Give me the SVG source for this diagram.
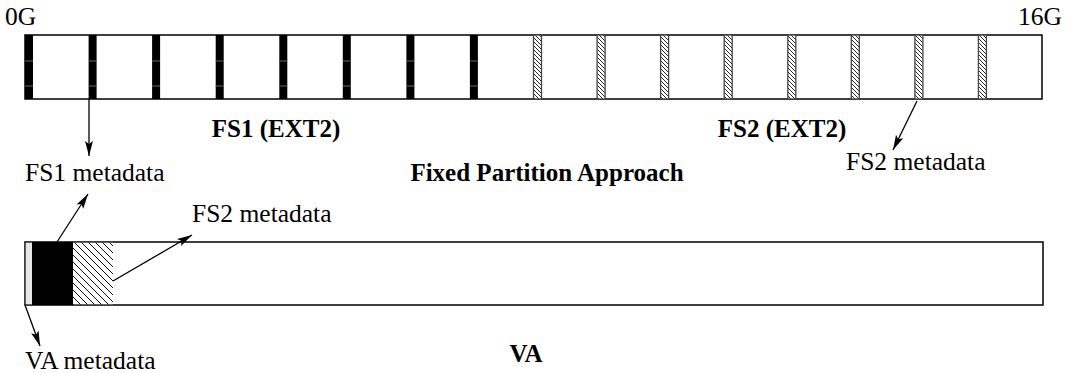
<svg xmlns="http://www.w3.org/2000/svg" width="1066" height="373" viewBox="0 0 1066 373">
  <style>
    .lbl { font-family: "Liberation Serif", "Times New Roman", serif; font-size: 25.5px; fill: #000; }
    .bold { font-weight: bold; font-size: 25px; }
    .frame { fill: #fff; stroke: #000; stroke-width: 1.5; }
    .meta1 { fill: #000; }
    .tick { stroke: #666; stroke-width: 1; }
    .meta2 { fill: url(#hatchFine); stroke: #444; stroke-width: 1.3; }
    .conn { fill: none; stroke: #000; stroke-width: 1.3; marker-end: url(#head); }
  </style>
  <defs>
    <pattern id="hatchFine" patternUnits="userSpaceOnUse" width="4" height="4">
      <rect width="4" height="4" fill="#fff"/>
      <path d="M-1,-1 L5,5 M-1,3 L1,5 M3,-1 L5,1" stroke="#111" stroke-width="0.9"/>
    </pattern>
    <pattern id="hatchWide" patternUnits="userSpaceOnUse" width="7" height="7">
      <rect width="7" height="7" fill="#fff"/>
      <path d="M-1,-1 L8,8 M-1,6 L1,8 M6,-1 L8,1" stroke="#111" stroke-width="1"/>
    </pattern>
    <marker id="head" markerUnits="userSpaceOnUse" markerWidth="16" markerHeight="10" refX="15" refY="5" orient="auto">
      <path d="M0,1 L15,5 L0,9 L3,5 Z" fill="#000"/>
    </marker>
  </defs>

  <!-- 0G .. 16G address space split into two fixed partitions -->
  <g id="fixed-partitions">
    <rect class="frame" x="25" y="35" width="1017" height="64"/>
    <g id="fs1-metadata-blocks">
      <rect class="meta1" x="25" y="35" width="8" height="64"/>
      <rect class="meta1" x="88.6" y="35" width="8" height="64"/>
      <rect class="meta1" x="152.1" y="35" width="8" height="64"/>
      <rect class="meta1" x="215.7" y="35" width="8" height="64"/>
      <rect class="meta1" x="279.3" y="35" width="8" height="64"/>
      <rect class="meta1" x="342.8" y="35" width="8" height="64"/>
      <rect class="meta1" x="406.4" y="35" width="8" height="64"/>
      <rect class="meta1" x="469.9" y="35" width="8" height="64"/>
      <path class="tick" d="M25,61h8M25,86h8M88.6,61h8M88.6,86h8M152.1,61h8M152.1,86h8M215.7,61h8M215.7,86h8M279.3,61h8M279.3,86h8M342.8,61h8M342.8,86h8M406.4,61h8M406.4,86h8M469.9,61h8M469.9,86h8"/>
    </g>
    <g id="fs2-metadata-blocks">
      <rect class="meta2" x="533.5" y="35" width="8" height="64"/>
      <rect class="meta2" x="597.1" y="35" width="8" height="64"/>
      <rect class="meta2" x="660.6" y="35" width="8" height="64"/>
      <rect class="meta2" x="724.2" y="35" width="8" height="64"/>
      <rect class="meta2" x="787.8" y="35" width="8" height="64"/>
      <rect class="meta2" x="851.3" y="35" width="8" height="64"/>
      <rect class="meta2" x="914.9" y="35" width="8" height="64"/>
      <rect class="meta2" x="978.4" y="35" width="8" height="64"/>
    </g>
    <text class="lbl" x="5" y="25">0G</text>
    <text class="lbl" x="1062" y="25" text-anchor="end">16G</text>
    <text class="lbl bold" x="276" y="137" text-anchor="middle">FS1 (EXT2)</text>
    <text class="lbl bold" x="782" y="137" text-anchor="middle">FS2 (EXT2)</text>
    <text class="lbl" x="25" y="181">FS1 metadata</text>
    <text class="lbl" x="846" y="170">FS2 metadata</text>
    <text class="lbl bold" x="547" y="181" text-anchor="middle">Fixed Partition Approach</text>
  </g>

  <!-- shared virtual address space -->
  <g id="virtual-allocation">
    <rect class="frame" x="25" y="242" width="1018" height="63"/>
    <rect x="25.8" y="242.8" width="6.5" height="61.4" fill="#e6e6e6"/>
    <rect class="meta1" x="32" y="242" width="41" height="63"/>
    <rect x="73" y="242.8" width="40" height="61.4" fill="url(#hatchWide)"/>
    <text class="lbl" x="192" y="222">FS2 metadata</text>
    <text class="lbl" x="25" y="369">VA metadata</text>
    <text class="lbl bold" x="526" y="362" text-anchor="middle">VA</text>
  </g>

  <g id="connectors">
    <line class="conn" x1="89" y1="99" x2="89" y2="156"/>
    <line class="conn" x1="917" y1="101" x2="893" y2="150"/>
    <line class="conn" x1="57" y1="242" x2="88" y2="194"/>
    <line class="conn" x1="113" y1="281" x2="192" y2="235"/>
    <line class="conn" x1="25" y1="305" x2="40" y2="346"/>
  </g>
</svg>
